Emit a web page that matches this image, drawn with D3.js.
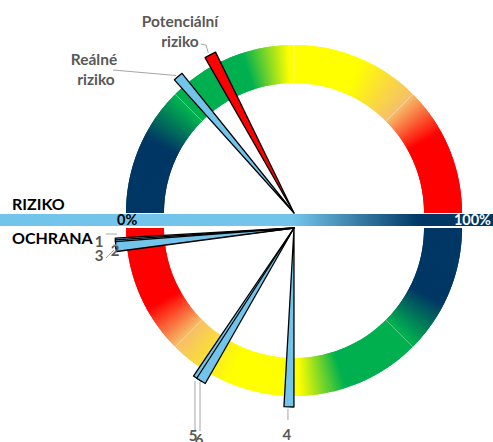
<!DOCTYPE html>
<html>
<head>
<meta charset="utf-8">
<script src="https://cdn.jsdelivr.net/npm/d3@7"></script>
<style>
  body { margin: 0; background: #fff; }
  svg { display: block; font-family: Lato, "Open Sans", sans-serif; font-weight: bold; }
</style>
</head>
<body>
<svg id="chart" width="493" height="442"></svg>
<script>
// data
let halves = ["RIZIKO", "OCHRANA"]
let scaleTicks = ["0%", "100%"]
let needleLabels = ["Potenciální riziko", "Reálné riziko", "1", "2", "3", "4", "5", "6"]
let needleHalf = ["RIZIKO", "RIZIKO", "OCHRANA", "OCHRANA", "OCHRANA", "OCHRANA", "OCHRANA", "OCHRANA"]
let needleValues = [34.5, 27.6, 2.7, 3.0, 3.3, 49.1, 31.9, 32.6]

// ring colours along each half (0 = start of the half, 1 = end)
let ringStops = [0, 0.15, 0.245, 0.4, 0.49, 0.63, 0.75, 0.84, 1]
let ringColors = ["#003764", "#003764", "#00b050", "#00b050", "#ffff00", "#ffff00", "#f6bf6b", "#ff0000", "#ff0000"]

let svg = d3.select("#chart")
let cx = 294
let centers = { RIZIKO: 213, OCHRANA: 228 }
let rIn = 130, rOut = 168, rNeedle = 179

// value -> angle (degrees, d3 convention: 0 = 12 o'clock, clockwise)
let angleScale = {
  RIZIKO: d3.scaleLinear().domain([0, 100]).range([-90, 90]),
  OCHRANA: d3.scaleLinear().domain([0, 100]).range([270, 90])
}
let rad = d => d * Math.PI / 180
let colorAt = d3.scaleLinear().domain(ringStops).range(ringColors).interpolate(d3.interpolateRgb)

// ring halves, both start navy and end red going clockwise
let ringStart = { RIZIKO: -90, OCHRANA: 90 }
let arc = d3.arc()
halves.forEach(function(h){
  let g = svg.append("g").attr("transform", "translate(" + cx + "," + centers[h] + ")")
  let step = 0.5
  for(let a = 0; a < 180; a += step){
    let col = colorAt((a + step / 2) / 180)
    // slight overlap so no seams show between slices
    let end = Math.min(a + step + 0.6, 180)
    g.append("path")
      .attr("d", arc({innerRadius: rIn, outerRadius: rOut,
        startAngle: rad(ringStart[h] + a), endAngle: rad(ringStart[h] + end)}))
      .attr("fill", col)
  }
  // faint segment borders
  ;[45, 90, 135].forEach(function(b){
    let t = rad(ringStart[h] + b)
    g.append("line")
      .attr("x1", rIn * Math.sin(t)).attr("y1", -rIn * Math.cos(t))
      .attr("x2", rOut * Math.sin(t)).attr("y2", -rOut * Math.cos(t))
      .attr("stroke", "#fff").attr("stroke-opacity", 0.35).attr("stroke-width", 1)
  })
})

// needles
let needleEnd = function(i){
  let h = needleHalf[i]
  let t = rad(angleScale[h](needleValues[i]))
  return [cx + rNeedle * Math.sin(t), centers[h] - rNeedle * Math.cos(t)]
}
needleValues.forEach(function(v, i){
  let h = needleHalf[i]
  let a = angleScale[h](v)
  let w = i == 0 ? 3.8 : 3.2
  svg.append("path")
    .attr("transform", "translate(" + cx + "," + centers[h] + ")")
    .attr("d", arc({innerRadius: 0, outerRadius: rNeedle, startAngle: rad(a - w / 2), endAngle: rad(a + w / 2)}))
    .attr("fill", i == 0 ? "#ff0000" : "#72c4ea")
    .attr("stroke", "#000").attr("stroke-width", 1.3).attr("stroke-linejoin", "round")
})

// scale bar
let defs = svg.append("defs")
let grad = defs.append("linearGradient").attr("id", "barGrad")
  .attr("gradientUnits", "userSpaceOnUse").attr("x1", cx).attr("x2", 420).attr("y1", 0).attr("y2", 0)
grad.append("stop").attr("offset", 0).attr("stop-color", "#72c4ea")
grad.append("stop").attr("offset", 1).attr("stop-color", "#003764")
svg.append("rect").attr("x", 0).attr("y", 214).attr("width", cx).attr("height", 12).attr("fill", "#72c4ea")
svg.append("rect").attr("x", cx).attr("y", 214).attr("width", 493 - cx).attr("height", 12).attr("fill", "url(#barGrad)")
svg.append("text").attr("x", 117).attr("y", 225).attr("font-size", 14.5).attr("fill", "#000").text(scaleTicks[0])
svg.append("text").attr("x", 491).attr("y", 225).attr("font-size", 14.5).attr("fill", "#fff")
  .attr("text-anchor", "end").text(scaleTicks[1])

// half titles
svg.append("text").attr("x", 12).attr("y", 210).attr("font-size", 16).attr("fill", "#000").text(halves[0])
svg.append("text").attr("x", 12).attr("y", 244).attr("font-size", 16).attr("fill", "#000").text(halves[1])

// needle labels + leader lines
let gray = "#595959", lead = "#a6a6a6"
let leader = function(pts){
  svg.append("path").attr("d", d3.line()(pts)).attr("fill", "none")
    .attr("stroke", lead).attr("stroke-width", 1)
}
let label = function(x, y, txt, size, anchor){
  svg.append("text").attr("x", x).attr("y", y).attr("font-size", size)
    .attr("text-anchor", anchor || "middle").attr("fill", gray).text(txt)
}
let e
// Potenciální riziko
let words = needleLabels[0].split(" ")
label(180, 27, words[0], 15.5); label(180, 47, words[1], 15.5)
e = needleEnd(0)
leader([[201, 44], [206, 45], [e[0] - 2, e[1] - 2]])
// Reálné riziko
words = needleLabels[1].split(" ")
label(94, 65, words[0], 15.5); label(96, 85, words[1], 15.5)
e = needleEnd(1)
leader([[113, 70], [e[0] - 2, e[1] - 1]])
// 1, 2, 3
label(99, 247, needleLabels[2], 15)
leader([[106, 234], [117, 234]])
label(115, 256, needleLabels[3], 15)
leader([[113, 245], [118, 245]])
label(99, 261, needleLabels[4], 15)
leader([[106, 258], [114, 250]])
// 4
e = needleEnd(5)
label(e[0] - 2, 440, needleLabels[5], 15)
leader([[e[0] - 1, e[1] + 2], [e[0] - 1, 420]])
// 5, 6
e = needleEnd(6)
label(193, 441, needleLabels[6], 15)
leader([[195, e[1] + 2], [195, 430]])
label(199, 445, needleLabels[7], 15)
leader([[200, e[1] + 3], [200, 431]])
</script>
</body>
</html>
